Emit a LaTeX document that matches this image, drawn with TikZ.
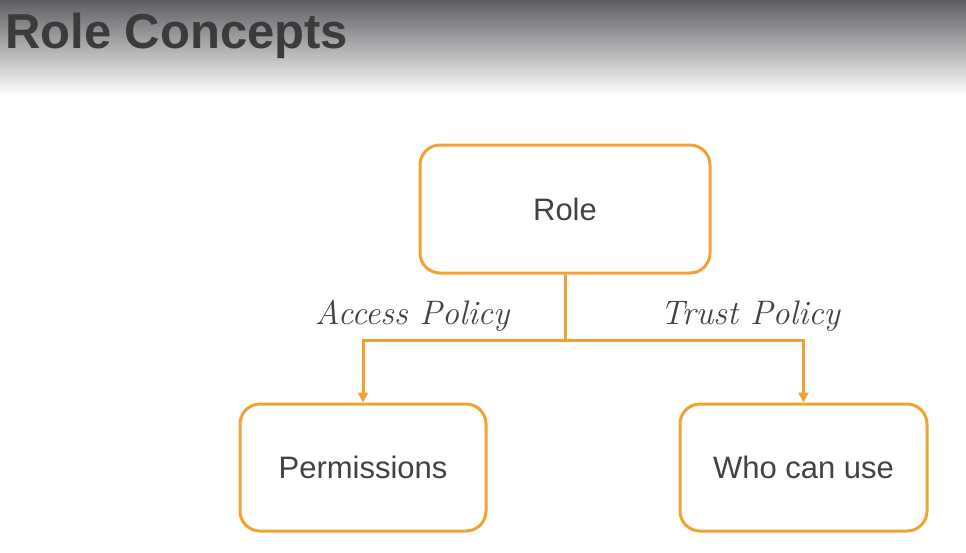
\documentclass[tikz,border=0pt]{standalone}
\usepackage{fontspec}
\setsansfont{Liberation Sans}
\usepackage{xcolor}
\definecolor{roleOrange}{HTML}{F0A232}
\definecolor{roleText}{HTML}{424242}
\definecolor{roleBand}{HTML}{5E5F63}
\usetikzlibrary{arrows.meta}

\tikzset{
  rolebox/.style={draw=roleOrange, line width=3pt, rounded corners=20pt, fill=white,
    text=roleText, font=\sffamily\fontsize{31}{36}\selectfont},
  conn/.style={draw=roleOrange, line width=3pt},
  tip/.style={-{Triangle[length=10pt,width=10pt]}},
  hand/.style={text=roleText, font=\rmfamily\itshape\fontsize{34}{38}\selectfont}
}

\begin{document}
\begin{tikzpicture}[x=1pt,y=-1pt]
  \useasboundingbox (0,0) rectangle (966,552);
  \fill[white] (0,0) rectangle (966,552);
  \shade[top color=roleBand, bottom color=white] (0,0) rectangle (966,96);
  \node[anchor=base west, inner sep=0pt, text=roleText!90!black, font=\sffamily\bfseries\fontsize{49}{58}\selectfont] (title) at (5,48) {Role Concepts};

  \node[rolebox, minimum width=290pt, minimum height=128pt] (role) at (565,209) {Role};
  \node[rolebox, minimum width=246pt, minimum height=127pt] (perm) at (363,467.5) {Permissions};
  \node[rolebox, minimum width=247pt, minimum height=127pt] (who) at (803.5,467.5) {Who can use};

  \coordinate (split) at (565,340);
  \draw[conn] (role.south) -- (split);
  \draw[conn, tip] (split) -| (perm.north);
  \draw[conn, tip] (split) -| (who.north);

  \node[hand, anchor=base] (access) at (412,324) {Access Policy};
  \node[hand, anchor=base] (trust) at (750,324) {Trust Policy};
\end{tikzpicture}
\end{document}
